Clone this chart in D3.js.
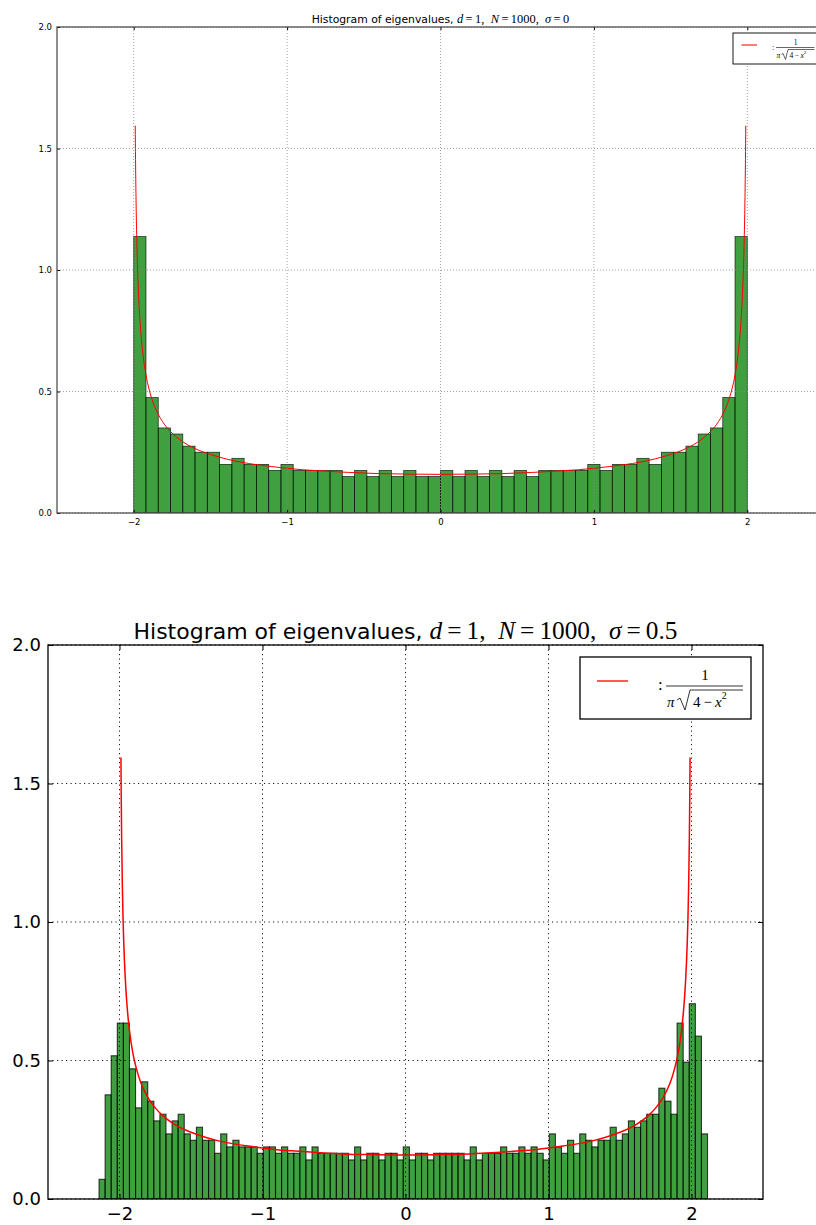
<!DOCTYPE html>
<html>
<head>
<meta charset="utf-8">
<script src="https://cdn.jsdelivr.net/npm/d3@7"></script>
<style>
body { margin: 0; background: #fff; }
svg { display: block; }
</style>
</head>
<body>
<svg id="chart" width="816" height="1225"></svg>
<script>
// sigma = 0 : 50 equal bins between these edges (density values)
var topRange = [-2, 2];
var topDensity = [
	1.1375, 0.475, 0.35, 0.325, 0.275, 0.25, 0.25, 0.2, 0.225, 0.2,
	0.2, 0.175, 0.2, 0.175, 0.175, 0.175, 0.175, 0.15, 0.175, 0.15,
	0.175, 0.15, 0.175, 0.15, 0.15, 0.175, 0.15, 0.175, 0.15, 0.175,
	0.15, 0.175, 0.15, 0.175, 0.175, 0.175, 0.175, 0.2, 0.175, 0.2,
	0.2, 0.225, 0.2, 0.25, 0.25, 0.275, 0.325, 0.35, 0.475, 1.1375
];

// sigma = 0.5 : 100 equal bins between these edges
var bottomRange = [-2.143, 2.112];
var bottomDensity = [
	0.071, 0.376, 0.517, 0.635, 0.635, 0.470, 0.329, 0.423, 0.353, 0.282,
	0.306, 0.235, 0.282, 0.306, 0.235, 0.212, 0.259, 0.212, 0.212, 0.165,
	0.235, 0.188, 0.212, 0.188, 0.188, 0.188, 0.165, 0.188, 0.188, 0.165,
	0.188, 0.165, 0.165, 0.188, 0.141, 0.188, 0.165, 0.165, 0.165, 0.165,
	0.165, 0.141, 0.188, 0.141, 0.165, 0.165, 0.141, 0.165, 0.165, 0.141,
	0.188, 0.141, 0.165, 0.165, 0.141, 0.165, 0.165, 0.165, 0.165, 0.165,
	0.141, 0.188, 0.141, 0.165, 0.165, 0.165, 0.188, 0.165, 0.165, 0.188,
	0.165, 0.188, 0.165, 0.141, 0.235, 0.188, 0.165, 0.212, 0.165, 0.235,
	0.212, 0.188, 0.212, 0.212, 0.259, 0.212, 0.235, 0.282, 0.259, 0.282,
	0.306, 0.306, 0.400, 0.353, 0.306, 0.635, 0.494, 0.705, 0.588, 0.235
];

// red reference curve
var curveX = [-1.99, -1.988, -1.985, -1.98, -1.975, -1.97, -1.96, -1.95, -1.94, -1.92,
	-1.9, -1.87, -1.85, -1.8, -1.75, -1.7, -1.6, -1.5, -1.4, -1.3,
	-1.2, -1.1, -1.0, -0.9, -0.8, -0.6, -0.4, -0.2, 0,
	0.2, 0.4, 0.6, 0.8, 0.9, 1.0, 1.1, 1.2, 1.3, 1.4,
	1.5, 1.6, 1.7, 1.75, 1.8, 1.85, 1.87, 1.9, 1.92, 1.94,
	1.95, 1.96, 1.97, 1.975, 1.98, 1.985, 1.988, 1.99];
var curveY = [1.594, 1.455, 1.302, 1.128, 1.010, 0.922, 0.800, 0.716, 0.655, 0.568,
	0.510, 0.449, 0.419, 0.365, 0.329, 0.302, 0.265, 0.241, 0.223, 0.209,
	0.199, 0.191, 0.184, 0.178, 0.174, 0.167, 0.162, 0.160, 0.159,
	0.160, 0.162, 0.167, 0.174, 0.178, 0.184, 0.191, 0.199, 0.209, 0.223,
	0.241, 0.265, 0.302, 0.329, 0.365, 0.419, 0.449, 0.510, 0.568, 0.655,
	0.716, 0.800, 0.922, 1.010, 1.128, 1.302, 1.455, 1.594];

var xDomain = [-2.5, 2.5];
var yDomain = [0, 2];
var xTicks = [-2, -1, 0, 1, 2];
var xTickLabels = ["\u22122", "\u22121", "0", "1", "2"];
var yTicks = [0, 0.5, 1, 1.5, 2];
var yTickLabels = ["0.0", "0.5", "1.0", "1.5", "2.0"];

var svg = d3.select("#chart");

var panels = [
	{ id: "p0", left: 57, right: 824, top: 27, bottom: 513, range: topRange, density: topDensity,
	  sigma: "0", tickFont: 8.5, titleFont: 10.8, titleY: 23, tickLen: 3, xPad: 6, yPad: 5,
	  grid: "#8a8a8a", gridDash: "1,2", gridW: 0.8, frame: "#444", frameW: 1.2, barW: 0.8,
	  lineW: 1, legX: 733, legY: 33, legS: 0.5 },
	{ id: "p1", left: 48, right: 763, top: 645, bottom: 1199, range: bottomRange, density: bottomDensity,
	  sigma: "0.5", tickFont: 18, titleFont: 22, titleY: 639, tickLen: 5, xPad: 8, yPad: 7,
	  grid: "#000", gridDash: "1.2,3.3", gridW: 0.9, frame: "#000", frameW: 1.3, barW: 1.1,
	  lineW: 1.5, legX: 580, legY: 657, legS: 1 }
];

panels.forEach(drawPanel);

function drawPanel(p) {
	var g = svg.append("g");
	var x = d3.scaleLinear().domain(xDomain).range([p.left, p.right]);
	var y = d3.scaleLinear().domain(yDomain).range([p.bottom, p.top]);

	g.append("clipPath").attr("id", "clip-" + p.id)
	.append("rect")
	.attr("x", p.left).attr("y", p.top)
	.attr("width", p.right - p.left).attr("height", p.bottom - p.top);

	var n = p.density.length;
	var w = (p.range[1] - p.range[0]) / n;
	var bins = p.density.map(function(v, i) {
		return { x0: p.range[0] + i * w, x1: p.range[0] + (i + 1) * w, v: v };
	});

	//BARS
	g.append("g").attr("clip-path", "url(#clip-" + p.id + ")")
	.selectAll("rect").data(bins).enter()
	.append("rect")
	.attr("x", function(d) { return x(d.x0); })
	.attr("y", function(d) { return y(d.v); })
	.attr("width", function(d) { return x(d.x1) - x(d.x0); })
	.attr("height", function(d) { return y(0) - y(d.v); })
	.attr("fill", "#008000")
	.attr("fill-opacity", 0.75)
	.attr("stroke", "#000")
	.attr("stroke-opacity", 0.75)
	.attr("stroke-width", p.barW);

	//CURVE
	var line = d3.line()
	.x(function(d, i) { return x(curveX[i]); })
	.y(function(d) { return y(d); })
	.curve(d3.curveMonotoneX);
	g.append("path")
	.attr("d", line(curveY))
	.attr("fill", "none")
	.attr("stroke", "#ff0000")
	.attr("stroke-width", p.lineW);

	//GRID
	g.selectAll(".vgrid").data(xTicks).enter()
	.append("line")
	.attr("x1", function(d) { return x(d); })
	.attr("x2", function(d) { return x(d); })
	.attr("y1", p.top).attr("y2", p.bottom)
	.attr("stroke", p.grid)
	.attr("stroke-width", p.gridW)
	.attr("stroke-dasharray", p.gridDash);
	g.selectAll(".hgrid").data(yTicks).enter()
	.append("line")
	.attr("y1", function(d) { return y(d); })
	.attr("y2", function(d) { return y(d); })
	.attr("x1", p.left).attr("x2", p.right)
	.attr("stroke", p.grid)
	.attr("stroke-width", p.gridW)
	.attr("stroke-dasharray", p.gridDash);

	//AXES (ticks point inward, labels only bottom and left)
	var fmtX = function(d, i) { return xTickLabels[i]; };
	var fmtY = function(d, i) { return yTickLabels[i]; };
	var axes = [
		[d3.axisBottom(x).tickValues(xTicks).tickFormat(fmtX).tickPadding(p.xPad), "translate(0," + p.bottom + ")"],
		[d3.axisTop(x).tickValues(xTicks).tickFormat(""), "translate(0," + p.top + ")"],
		[d3.axisLeft(y).tickValues(yTicks).tickFormat(fmtY).tickPadding(p.yPad), "translate(" + p.left + ",0)"],
		[d3.axisRight(y).tickValues(yTicks).tickFormat(""), "translate(" + p.right + ",0)"]
	];
	axes.forEach(function(a) {
		var ax = g.append("g")
		.attr("transform", a[1])
		.call(a[0].tickSizeInner(-p.tickLen).tickSizeOuter(0));
		ax.select(".domain").remove();
		ax.selectAll("line").attr("stroke", "#000").attr("stroke-width", 1);
		ax.selectAll("text")
		.attr("font-family", "DejaVu Sans")
		.attr("font-size", p.tickFont)
		.attr("fill", "#000");
	});

	//FRAME
	g.append("rect")
	.attr("x", p.left).attr("y", p.top)
	.attr("width", p.right - p.left).attr("height", p.bottom - p.top)
	.attr("fill", "none")
	.attr("stroke", p.frame)
	.attr("stroke-width", p.frameW);

	//TITLE
	var t = g.append("text")
	.attr("x", (p.left + p.right) / 2)
	.attr("y", p.titleY)
	.attr("text-anchor", "middle")
	.attr("font-family", "DejaVu Sans")
	.attr("font-size", p.titleFont);
	t.append("tspan").text("Histogram of eigenvalues, ");
	var mf = p.titleFont * 1.15;
	[["d", true], ["\u2009=\u20091,\u2002", false], ["N", true], ["\u2009=\u20091000,\u2002", false],
	 ["\u03c3", true], ["\u2009=\u2009" + p.sigma, false]].forEach(function(s) {
		t.append("tspan")
		.attr("font-family", "Liberation Serif")
		.attr("font-style", s[1] ? "italic" : "normal")
		.attr("font-size", mf)
		.text(s[0]);
	});

	drawLegend(g, p.legX, p.legY, p.legS);
}

function drawLegend(g, x0, y0, s) {
	var lg = g.append("g").attr("transform", "translate(" + x0 + "," + y0 + ")");
	lg.append("rect")
	.attr("width", 171 * s).attr("height", 62 * s)
	.attr("fill", "#fff")
	.attr("stroke", "#000")
	.attr("stroke-width", s < 1 ? 0.9 : 1.3);
	lg.append("line")
	.attr("x1", 17 * s).attr("x2", 48 * s)
	.attr("y1", 24 * s).attr("y2", 24 * s)
	.attr("stroke", "#ff0000")
	.attr("stroke-width", 1.3 * Math.max(s, 0.8));

	var serif = "Liberation Serif";
	lg.append("text")
	.attr("x", 78 * s).attr("y", 33 * s)
	.attr("font-family", serif).attr("font-size", 17 * s)
	.text(":");
	lg.append("text")
	.attr("x", 125 * s).attr("y", 23 * s)
	.attr("text-anchor", "middle")
	.attr("font-family", serif).attr("font-size", 15 * s)
	.text("1");
	lg.append("line")
	.attr("x1", 86 * s).attr("x2", 163 * s)
	.attr("y1", 29 * s).attr("y2", 29 * s)
	.attr("stroke", "#000").attr("stroke-width", Math.max(0.8 * s, 0.6));
	lg.append("text")
	.attr("x", 87 * s).attr("y", 50 * s)
	.attr("font-family", serif).attr("font-style", "italic").attr("font-size", 15 * s)
	.text("\u03c0");
	lg.append("path")
	.attr("d", "M" + 97 * s + "," + 43 * s + " L" + 100 * s + "," + 41 * s +
		" L" + 105 * s + "," + 53 * s + " L" + 110 * s + "," + 33 * s + " L" + 163 * s + "," + 33 * s)
	.attr("fill", "none")
	.attr("stroke", "#000").attr("stroke-width", Math.max(0.8 * s, 0.6));
	var den = lg.append("text")
	.attr("x", 113 * s).attr("y", 50 * s)
	.attr("font-family", serif).attr("font-size", 15 * s);
	den.append("tspan").text("4\u2009\u2212\u2009");
	den.append("tspan").attr("font-style", "italic").text("x");
	den.append("tspan").attr("font-size", 10 * s).attr("dy", -8 * s).text("2");
}
</script>
</body>
</html>
